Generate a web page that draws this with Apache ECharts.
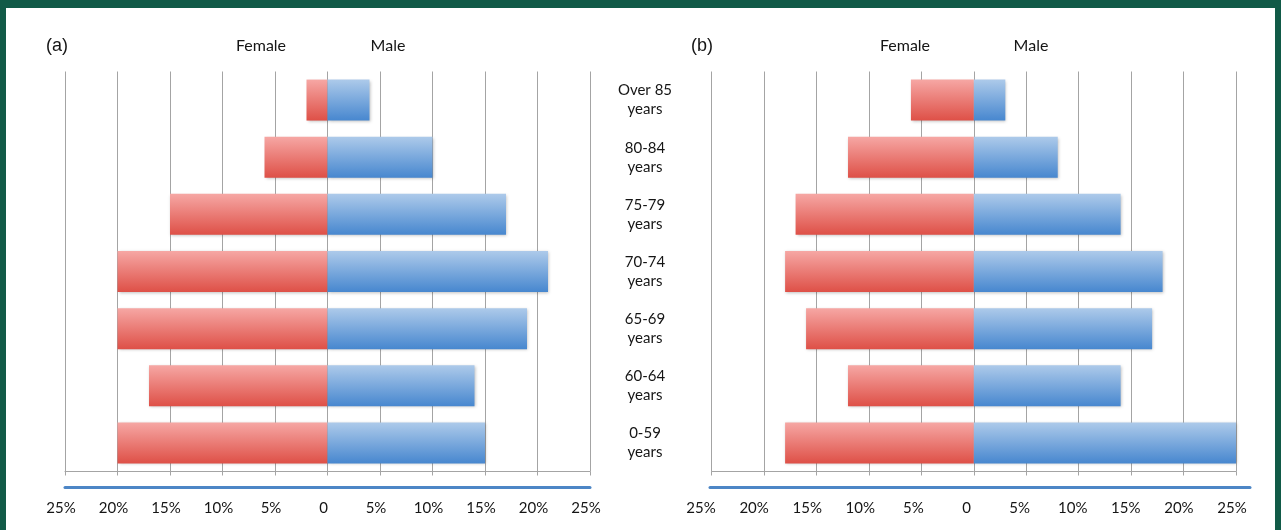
<!DOCTYPE html>
<html>
<head>
<meta charset="utf-8">
<script src="https://cdn.jsdelivr.net/npm/echarts@6/dist/echarts.min.js"></script>
<style>
  html, body { margin: 0; padding: 0; background: #115a47; width: 1281px; height: 530px; overflow: hidden; }
  #chart { position: absolute; left: 6px; top: 8px; width: 1269px; height: 522px; background: #fff; }
</style>
</head>
<body>
<div id="chart"></div>
<script>
// age bands, top to bottom
const ageGroups = ['Over 85\nyears', '80-84\nyears', '75-79\nyears', '70-74\nyears', '65-69\nyears', '60-64\nyears', '0-59\nyears'];
// (a) percentages
const femaleA = [2, 6, 15, 20, 20, 17, 20];
const maleA = [4, 10, 17, 21, 19, 14, 15];
// (b) percentages
const femaleB = [6, 12, 17, 18, 16, 12, 18];
const maleB = [3, 8, 14, 18, 17, 14, 25];
const panelNames = ['(a)', '(b)'];
const sexNames = ['Female', 'Male'];

const FONT = 'Lato, "Open Sans", sans-serif';
const gray = '#a4a4a4';
const ink = '#151515';

const redFill = new echarts.graphic.LinearGradient(0, 0, 0, 1, [
  { offset: 0, color: '#f6a7a4' },
  { offset: 1, color: '#de5047' },
]);
const blueFill = new echarts.graphic.LinearGradient(0, 0, 0, 1, [
  { offset: 0, color: '#adcaea' },
  { offset: 1, color: '#4787cf' },
]);

const pctLabel = (v) => (v === 0 ? '0' : Math.abs(v) + '%');

// main axis: gray baseline + vertical gridlines
const mainX = (gridIndex) => ({
  type: 'value',
  gridIndex,
  min: -25,
  max: 25,
  interval: 5,
  axisLine: { show: true, onZero: false, lineStyle: { color: gray, width: 1 } },
  axisTick: { show: true, length: 4, lineStyle: { color: gray } },
  axisLabel: { show: false },
  splitLine: { show: true, lineStyle: { color: gray, width: 1 } },
});

// thick blue rule under the plot
const blueX = (gridIndex) => ({
  type: 'value',
  gridIndex,
  position: 'bottom',
  offset: 16,
  min: -25,
  max: 25,
  axisLine: { show: true, onZero: false, lineStyle: { color: '#4d86c6', width: 3 } },
  axisTick: { show: false },
  axisLabel: { show: false },
  splitLine: { show: false },
});

// tick labels (sit a little off the gridlines in the original)
const labelX = (gridIndex) => ({
  type: 'value',
  gridIndex,
  min: -25,
  max: 25,
  interval: 5,
  axisLine: { show: false },
  axisTick: { show: false },
  splitLine: { show: false },
  axisLabel: {
    margin: 29,
    fontFamily: FONT,
    fontSize: 15,
    color: ink,
    formatter: pctLabel,
  },
});

const catY = (gridIndex, extra) => Object.assign({
  type: 'category',
  gridIndex,
  inverse: true,
  data: ageGroups,
  axisLine: { show: false },
  axisTick: { show: false },
  axisLabel: { show: false },
  splitLine: { show: false },
}, extra);

const barSeries = (name, values, xi, yi, fill, sign) => ({
  name,
  type: 'bar',
  xAxisIndex: xi,
  yAxisIndex: yi,
  data: values.map((v) => sign * v),
  barWidth: 41,
  barGap: '-100%',
  itemStyle: {
    color: fill,
    shadowColor: 'rgba(0,0,0,0.25)',
    shadowBlur: 3,
    shadowOffsetX: 1,
    shadowOffsetY: 1,
  },
});

const headText = (text, x, font, size) => ({
  type: 'text',
  x,
  y: 38,
  style: {
    text,
    fill: ink,
    font: size + 'px ' + font,
    textAlign: 'center',
    textVerticalAlign: 'middle',
  },
});

const chart = echarts.init(document.getElementById('chart'));
chart.setOption({
  animation: false,
  grid: [
    { left: 59, top: 63.5, width: 525, height: 400 },
    { left: 705.7, top: 63.5, width: 524.3, height: 400 },
    { left: 55, top: 63.5, width: 525, height: 400 },
    { left: 695, top: 63.5, width: 531, height: 400 },
    { left: 704, top: 63.5, width: 540, height: 400 },
  ],
  xAxis: [mainX(0), blueX(0), mainX(1), blueX(4), labelX(2), labelX(3)],
  yAxis: [
    catY(0, {
      position: 'right',
      axisLabel: {
        show: true,
        align: 'center',
        margin: 55,
        fontFamily: FONT,
        fontSize: 15,
        lineHeight: 19,
        color: ink,
      },
    }),
    catY(1),
    catY(2, { show: false }),
    catY(3, { show: false }),
    catY(4, { show: false }),
  ],
  series: [
    barSeries('Female', femaleA, 0, 0, redFill, -1),
    barSeries('Male', maleA, 0, 0, blueFill, 1),
    barSeries('Female', femaleB, 2, 1, redFill, -1),
    barSeries('Male', maleB, 2, 1, blueFill, 1),
  ],
  graphic: [
    headText(panelNames[0], 51, '"Liberation Sans", Arial, sans-serif', 18),
    headText(panelNames[1], 696, '"Liberation Sans", Arial, sans-serif', 18),
    headText(sexNames[0], 255, FONT, 16),
    headText(sexNames[1], 382, FONT, 16),
    headText(sexNames[0], 899, FONT, 16),
    headText(sexNames[1], 1025, FONT, 16),
  ],
});
</script>
</body>
</html>
